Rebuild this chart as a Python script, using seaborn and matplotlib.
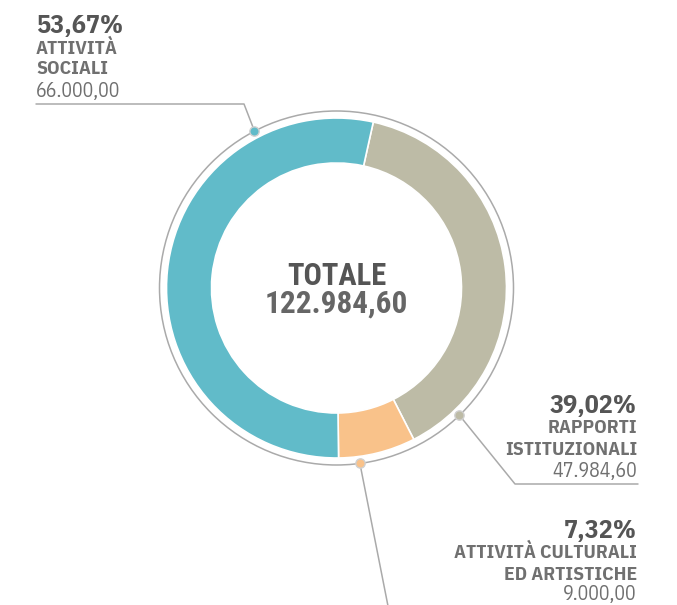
import matplotlib
matplotlib.use("Agg")
import matplotlib.pyplot as plt
import seaborn as sns
import numpy as np

# ---- data ----
categories = ["RAPPORTI\nISTITUZIONALI", "ATTIVITÀ CULTURALI\nED ARTISTICHE", "ATTIVITÀ\nSOCIALI"]
values = [47984.60, 9000.00, 66000.00]
pct_labels = ["39,02%", "7,32%", "53,67%"]
value_labels = ["47.984,60", "9.000,00", "66.000,00"]
total_label = "122.984,60"

sns.set_theme(style="white")
lab_fam = ["IBM Plex Sans Condensed", "Roboto Condensed", "DejaVu Sans"]
ctr_fam = ["Roboto Condensed", "DejaVu Sans"]
plt.rcParams["font.family"] = lab_fam

colors = ["#BDBBA6", "#F9C28A", "#61BBC9"]

W, H = 677, 605
fig = plt.figure(figsize=(W / 100, H / 100), dpi=100)
ax = fig.add_axes([0, 0, 1, 1])

cx, cy = 336.5, H - 288
R = 170
ax.pie(values, colors=colors, startangle=77.5, counterclock=False,
       radius=R, center=(cx, cy), frame=True,
       wedgeprops=dict(width=45, edgecolor="white", linewidth=1.2))
ax.set_xlim(0, W)
ax.set_ylim(0, H)
ax.set_aspect("equal")
ax.axis("off")

ax.add_patch(plt.Circle((cx, cy), 177, fill=False, ec="#AAAAAA", lw=1.1))

# center text
ax.text(cx, H - 285, "TOTALE", ha="center", va="baseline", fontsize=22,
        fontweight="bold", color="#555555", family=ctr_fam)
ax.text(cx, H - 313, total_label, ha="center", va="baseline", fontsize=22.5,
        fontweight="bold", color="#666666", family=ctr_fam)

# leader dots (angle clockwise from top, degrees) and lines
dot_angles = [136, 172.4, 332.4]
Rd = 177
def pt(a):
    t = np.deg2rad(a)
    return cx + Rd * np.sin(t), cy + Rd * np.cos(t)

line_paths = [
    [(515, 484), (638, 484)],
    [(388, 606)],
    [(244, 104), (36, 104)],
]
for a, c, path in zip(dot_angles, colors, line_paths):
    x0, y0 = pt(a)
    xs = [x0] + [p[0] for p in path]
    ys = [y0] + [H - p[1] for p in path]
    ax.plot(xs, ys, color="#AAAAAA", lw=1.1, zorder=3)
    ax.scatter([x0], [y0], s=45, color=c, edgecolor="#D0D0D0", linewidth=1, zorder=4)

# labels: (x, ha, baselines)
label_pos = [
    (637, "right", [413, 433, 455, 477]),
    (637, "right", [538, 558, 580, 600]),
    (36, "left", [33, 54, 74, 97]),
]
for (x, ha, bl), cat, p, v in zip(label_pos, categories, pct_labels, value_labels):
    ax.text(x, H - bl[0], p, ha=ha, va="baseline", fontsize=18.8, fontweight="bold", color="#555555")
    l1, l2 = cat.split("\n")
    ax.text(x, H - bl[1], l1, ha=ha, va="baseline", fontsize=14, fontweight="bold", color="#707070")
    ax.text(x, H - bl[2], l2, ha=ha, va="baseline", fontsize=14, fontweight="bold", color="#707070")
    ax.text(x, H - bl[3], v, ha=ha, va="baseline", fontsize=14.3, fontweight="normal", color="#707070")

fig.savefig("out.png", dpi=100)
